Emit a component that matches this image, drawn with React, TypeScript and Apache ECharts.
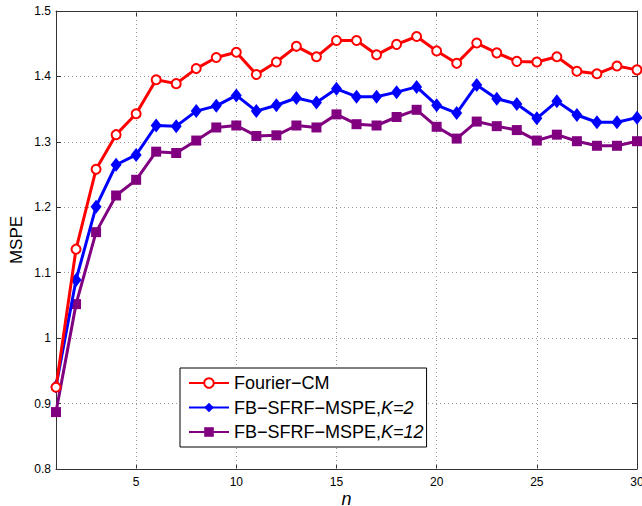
import React, { useEffect, useRef } from "react";
import * as echarts from "echarts";

const nValues = [1, 2, 3, 4, 5, 6, 7, 8, 9, 10, 11, 12, 13, 14, 15, 16, 17, 18, 19, 20, 21, 22, 23, 24, 25, 26, 27, 28, 29, 30];
const fourierCM = [0.925, 1.136, 1.258, 1.311, 1.343, 1.395, 1.389, 1.412, 1.429, 1.437, 1.403, 1.422, 1.446, 1.430, 1.455, 1.455, 1.433, 1.449, 1.461, 1.439, 1.420, 1.451, 1.436, 1.423, 1.422, 1.430, 1.408, 1.404, 1.416, 1.410];
const fbK2 = [0.926, 1.089, 1.201, 1.265, 1.280, 1.325, 1.324, 1.347, 1.355, 1.371, 1.347, 1.356, 1.367, 1.360, 1.381, 1.369, 1.369, 1.376, 1.384, 1.356, 1.344, 1.387, 1.366, 1.358, 1.336, 1.362, 1.341, 1.330, 1.330, 1.337];
const fbK12 = [0.887, 1.052, 1.162, 1.218, 1.242, 1.285, 1.283, 1.302, 1.322, 1.325, 1.309, 1.310, 1.325, 1.322, 1.342, 1.327, 1.325, 1.338, 1.349, 1.323, 1.305, 1.331, 1.324, 1.318, 1.302, 1.311, 1.301, 1.294, 1.294, 1.301];
const xTicks = [5, 10, 15, 20, 25, 30];
const xGrid = [5, 10, 15, 20, 25];

const FONT = "Liberation Sans, Arial, sans-serif";

export default function App() {
  const ref = useRef<HTMLDivElement>(null);
  useEffect(() => {
    if (!ref.current) return;
    const chart = echarts.init(ref.current, null, { renderer: "svg" });
    const pair = (ys: number[]) => nValues.map((n, i) => [n, ys[i]]);
    const axisLine = { show: true, lineStyle: { color: "#333333", width: 1 } };
    chart.setOption({
      animation: false,
      backgroundColor: "#ffffff",
      textStyle: { fontFamily: FONT },
      grid: { left: 56, right: 5, top: 11, bottom: 37, containLabel: false, outerBoundsMode: "none" },
      legend: {
        orient: "vertical",
        left: 180,
        top: 368,
        backgroundColor: "#ffffff",
        borderColor: "#000000",
        borderWidth: 1,
        borderRadius: 0,
        padding: [6, 3, 6, 8],
        itemGap: 6.5,
        itemWidth: 40,
        itemHeight: 12,
        textStyle: {
          fontSize: 18,
          lineHeight: 18,
          color: "#000",
          fontFamily: FONT,
          rich: { i: { fontStyle: "italic", fontSize: 18, lineHeight: 18, fontFamily: FONT, color: "#000" } },
        },
        formatter: (name: string) => {
          if (name === "Fourier−CM") return name;
          if (name.endsWith("K=2")) return "FB−SFRF−MSPE,{i|K=2}";
          return "FB−SFRF−MSPE,{i|K=12}";
        },
        data: ["Fourier−CM", "FB−SFRF−MSPE,K=2", "FB−SFRF−MSPE,K=12"],
      },
      xAxis: [
        {
          type: "value",
          min: 1,
          max: 30,
          position: "bottom",
          name: "n",
          nameLocation: "middle",
          nameGap: 21,
          nameMoveOverlap: false,
          nameTextStyle: { fontStyle: "italic", fontSize: 18, lineHeight: 18, color: "#000", fontFamily: FONT },
          axisLine,
          axisTick: { show: true, inside: true, length: 5, customValues: xTicks, lineStyle: { color: "#333333" } },
          axisLabel: { customValues: xTicks, fontSize: 12, color: "#000", margin: 7, fontFamily: FONT },
          splitLine: { show: false },
        },
        {
          type: "value",
          min: 1,
          max: 30,
          position: "top",
          axisLine,
          axisTick: { show: true, inside: true, length: 5, customValues: xTicks, lineStyle: { color: "#333333" } },
          axisLabel: { show: false },
          splitLine: { show: false },
        },
      ],
      yAxis: [
        {
          type: "value",
          min: 0.8,
          max: 1.5,
          interval: 0.1,
          position: "left",
          name: "MSPE",
          nameLocation: "middle",
          nameGap: 31,
          nameMoveOverlap: false,
          nameTextStyle: { fontSize: 17, color: "#000", fontFamily: FONT },
          axisLine,
          axisTick: { show: true, inside: true, length: 5, lineStyle: { color: "#333333" } },
          axisLabel: { fontSize: 12, color: "#000", margin: 5, fontFamily: FONT },
          splitLine: { show: true, lineStyle: { type: [1, 3], color: "#9a9a9a", width: 1 } },
        },
        {
          type: "value",
          min: 0.8,
          max: 1.5,
          interval: 0.1,
          position: "right",
          axisLine,
          axisTick: { show: true, inside: true, length: 5, lineStyle: { color: "#333333" } },
          axisLabel: { show: false },
          splitLine: { show: false },
        },
      ],
      series: [
        {
          name: "Fourier−CM",
          type: "line",
          data: pair(fourierCM),
          color: "#ff0000",
          lineStyle: { width: 3, color: "#ff0000" },
          symbol: "emptyCircle",
          symbolSize: 9,
          itemStyle: { color: "#ff0000", borderColor: "#ff0000", borderWidth: 2.5 },
          z: 4,
          markLine: {
            silent: true,
            symbol: "none",
            label: { show: false },
            lineStyle: { type: [1, 3], color: "#9a9a9a", width: 1 },
            data: xGrid.map((v) => ({ xAxis: v })),
            z: 1,
          },
        },
        {
          name: "FB−SFRF−MSPE,K=2",
          type: "line",
          data: pair(fbK2),
          color: "#0000ff",
          lineStyle: { width: 3, color: "#0000ff" },
          symbol: "diamond",
          symbolSize: [11, 14],
          itemStyle: { color: "#0000ff" },
          z: 3,
        },
        {
          name: "FB−SFRF−MSPE,K=12",
          type: "line",
          data: pair(fbK12),
          color: "#800080",
          lineStyle: { width: 3, color: "#800080" },
          symbol: "rect",
          symbolSize: 10,
          itemStyle: { color: "#800080" },
          z: 2,
        },
      ],
    });
    return () => chart.dispose();
  }, []);
  return <div ref={ref} style={{ width: 642, height: 506, position: "absolute", left: 0, top: 0 }} />;
}
